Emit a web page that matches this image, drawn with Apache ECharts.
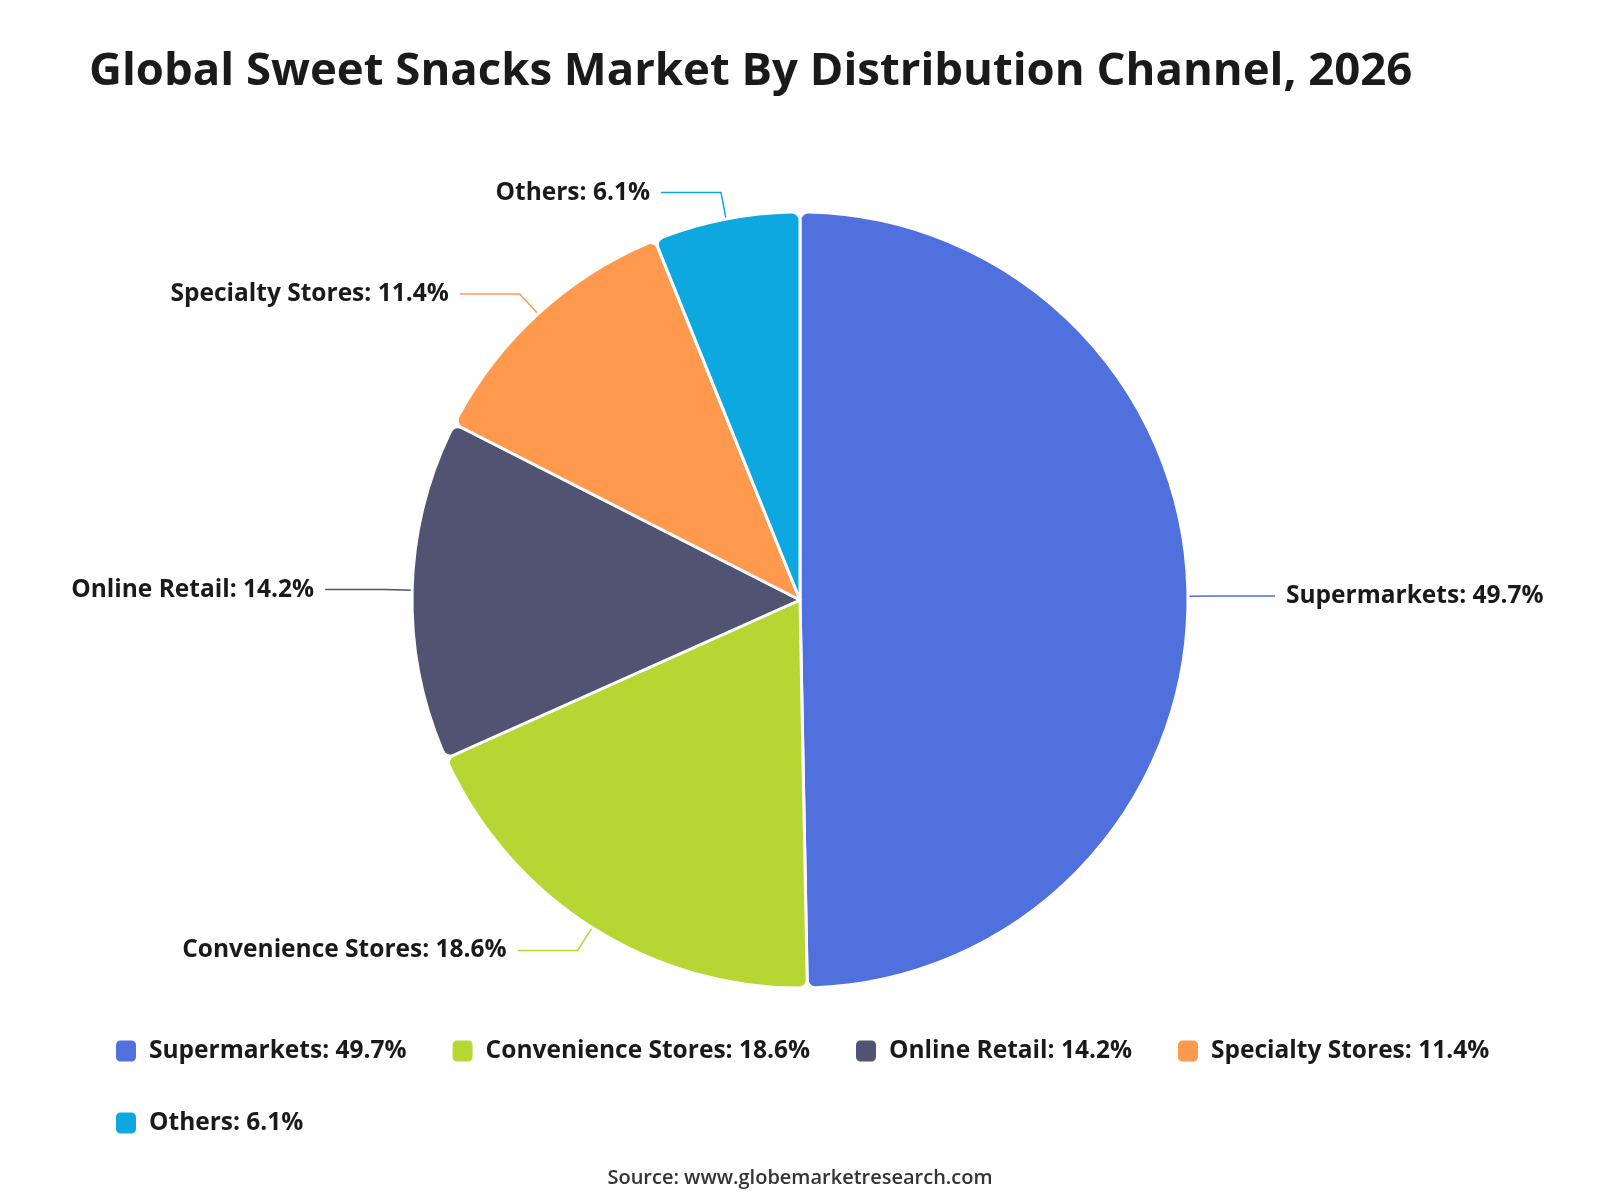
<!DOCTYPE html>
<html>
<head>
<meta charset="utf-8">
<script src="https://cdn.jsdelivr.net/npm/echarts@6/dist/echarts.min.js"></script>
<style>
  html, body { margin: 0; padding: 0; background: #fff; }
  #chart { width: 1600px; height: 1200px; }
</style>
</head>
<body>
<div id="chart"></div>
<script>
// 数据
const channels = ['Supermarkets', 'Convenience Stores', 'Online Retail', 'Specialty Stores', 'Others']
const shares = [49.7, 18.6, 14.2, 11.4, 6.1]
const colors = ['#5070dd', '#b6d634', '#505372', '#ff994d', '#0ca8df']

const font = '"Open Sans", "Noto Sans", sans-serif'

const chart = echarts.init(document.getElementById('chart'))

const option = {
  color: colors,
  title: {
    text: 'Global Sweet Snacks Market By Distribution Channel, 2026',
    left: 84,
    top: 44,
    textStyle: {
      fontFamily: font,
      fontSize: 45.5,
      fontWeight: 'bold',
      color: '#1a1a1a'
    }
  },
  graphic: [
    {
      type: 'text',
      left: 'center',
      top: 1168,
      style: {
        text: 'Source: www.globemarketresearch.com',
        font: '600 20px ' + font,
        fill: '#333'
      }
    }
  ],
  legend: {
    left: 114,
    top: 1037,
    width: 1440,
    padding: 0,
    itemWidth: 22,
    itemHeight: 23,
    itemGap: 44,
    icon: 'roundRect',
    textStyle: {
      fontFamily: font,
      fontSize: 24.5,
      fontWeight: 'bold',
      color: '#1a1a1a',
      lineHeight: 28,
      padding: [0, 0, 0, 7]
    },
    formatter: (name) => {
      const i = channels.indexOf(name)
      return name + ': ' + shares[i] + '%'
    }
  },
  series: [
    {
      type: 'pie',
      center: [800, 600],
      radius: [0, 388],
      startAngle: 90,
      clockwise: true,
      itemStyle: {
        borderColor: '#fff',
        borderWidth: 3,
        borderRadius: 8
      },
      label: {
        show: true,
        formatter: '{b}: {c}%',
        fontFamily: font,
        fontSize: 24.5,
        fontWeight: 'bold',
        color: '#1a1a1a',
        distanceToLabelLine: 11
      },
      labelLine: {
        length: 27,
        length2: 60,
        lineStyle: { width: 1.5 }
      },
      data: channels.map((name, i) => ({ name: name, value: shares[i] }))
    }
  ]
}

chart.setOption(option)
</script>
</body>
</html>
